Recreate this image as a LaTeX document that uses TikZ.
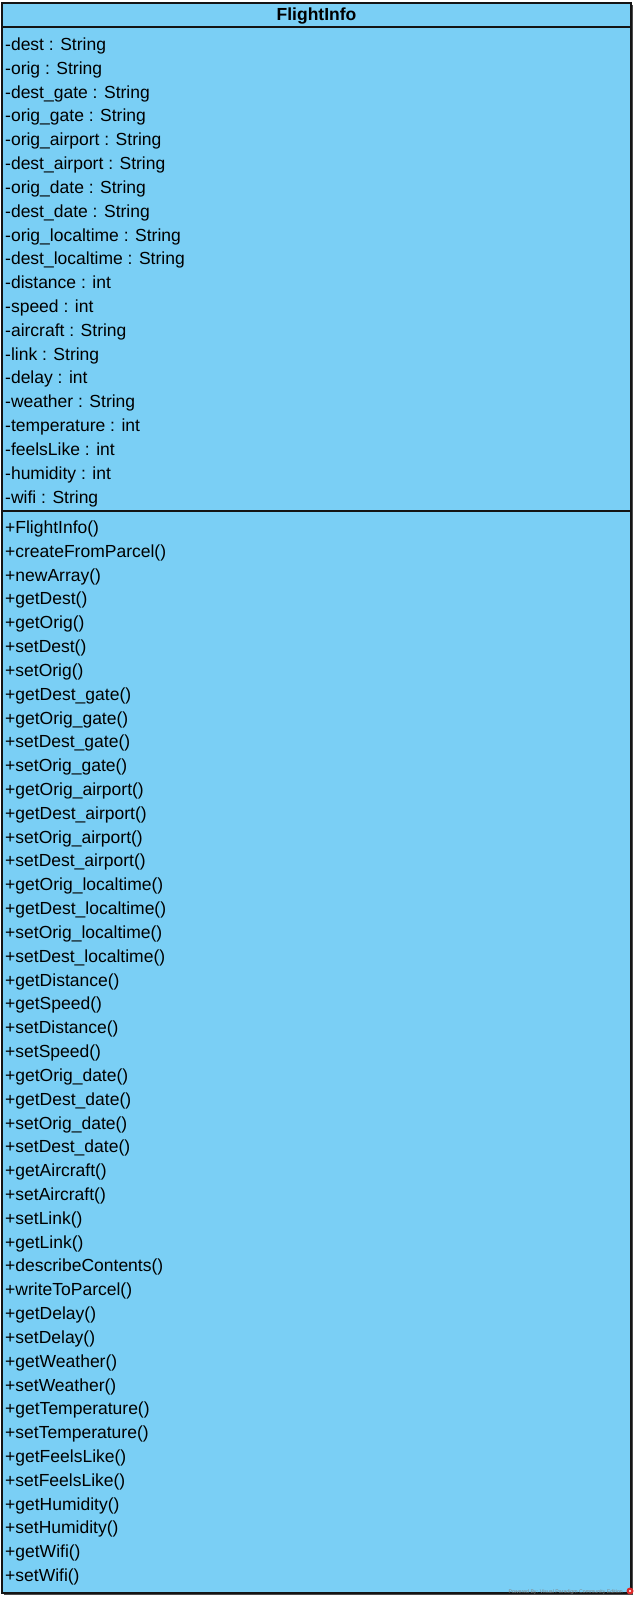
\documentclass[tikz,border=0pt]{standalone}
\usepackage{fontspec}
\setmainfont{Liberation Sans}
\definecolor{classfill}{RGB}{122,207,245}
\definecolor{classline}{RGB}{20,20,20}
\definecolor{wmgray}{RGB}{130,130,130}
\definecolor{wmred}{RGB}{220,40,40}
\tikzset{
  member/.style={anchor=base west, inner sep=0pt, font=\fontsize{17.5}{20}\selectfont, text=black},
  titletext/.style={anchor=base, inner sep=0pt, font=\fontsize{17.5}{20}\selectfont\bfseries, text=black},
  classbox/.style={draw=classline, line width=1.5pt, fill=classfill},
  sepline/.style={draw=classline, line width=1.5pt},
  watermark/.style={anchor=base east, inner sep=0pt, font=\fontsize{5.2}{6}\selectfont, text=wmgray}
}
\begin{document}
\begin{tikzpicture}[x=1pt,y=-1pt]
\useasboundingbox (0,0) rectangle (637,1600);
\fill[black!70] (4,5) rectangle (633,1595);
\path[classbox] (2,3) rectangle (631,1593);
\draw[sepline] (2,27) -- (631,27);
\draw[sepline] (2,511) -- (631,511);
\node[titletext] (title) at (316.5,21) {FlightInfo};
\foreach \t [count=\i from 0] in {
  -dest : String, -orig : String, -dest\_gate : String, -orig\_gate : String,
  -orig\_airport : String, -dest\_airport : String, -orig\_date : String,
  -dest\_date : String, -orig\_localtime : String, -dest\_localtime : String,
  -distance : int, -speed : int, -aircraft : String, -link : String,
  -delay : int, -weather : String, -temperature : int, -feelsLike : int,
  -humidity : int, -wifi : String}
  \node[member] (a\i) at (5,{50.5+\i*23.82}) {\t};
\foreach \t [count=\i from 0] in {
  +FlightInfo(), +createFromParcel(), +newArray(), +getDest(), +getOrig(),
  +setDest(), +setOrig(), +getDest\_gate(), +getOrig\_gate(), +setDest\_gate(),
  +setOrig\_gate(), +getOrig\_airport(), +getDest\_airport(), +setOrig\_airport(),
  +setDest\_airport(), +getOrig\_localtime(), +getDest\_localtime(),
  +setOrig\_localtime(), +setDest\_localtime(), +getDistance(), +getSpeed(),
  +setDistance(), +setSpeed(), +getOrig\_date(), +getDest\_date(),
  +setOrig\_date(), +setDest\_date(), +getAircraft(), +setAircraft(),
  +setLink(), +getLink(), +describeContents(), +writeToParcel(), +getDelay(),
  +setDelay(), +getWeather(), +setWeather(), +getTemperature(),
  +setTemperature(), +getFeelsLike(), +setFeelsLike(), +getHumidity(),
  +setHumidity(), +getWifi(), +setWifi()}
  \node[member] (m\i) at (5,{533.5+\i*23.82}) {\t};
\node[watermark] (wm) at (623,1593) {Powered By: Visual Paradigm Community Edition};
\fill[wmred] (630,1591) circle (3.5pt);
\fill[white] (630,1591) circle (1.2pt);
\end{tikzpicture}
\end{document}
